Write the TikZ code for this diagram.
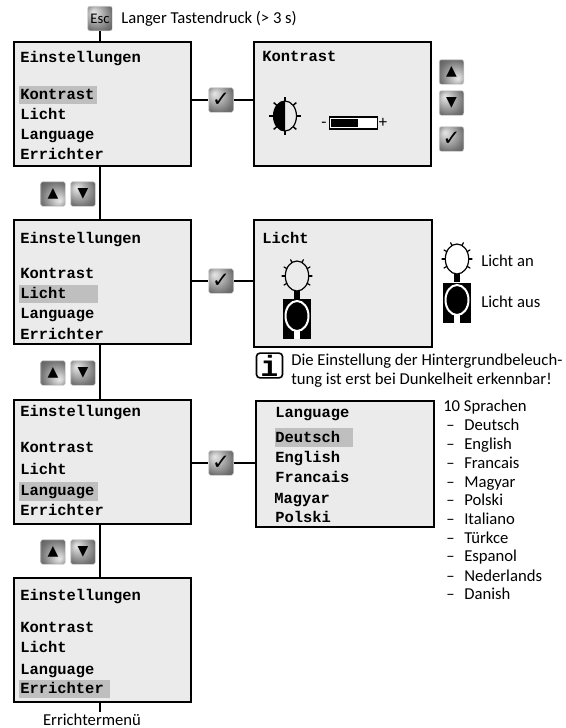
\documentclass[tikz,border=0pt]{standalone}
\usepackage{fontspec}
\setmainfont{Carlito}
\newfontfamily\lcd{Liberation Mono}[BoldFont={Liberation Mono Bold}]
\newfontfamily\sym{DejaVu Sans}
\pgfdeclareradialshading{btnup}{\pgfpoint{14bp}{-14bp}}{color(0bp)=(white!90!black); color(8bp)=(white!80!black); color(30bp)=(black!55); color(50bp)=(black!72)}
\pgfdeclareradialshading{btndown}{\pgfpoint{-14bp}{14bp}}{color(0bp)=(white!90!black); color(8bp)=(white!80!black); color(30bp)=(black!55); color(50bp)=(black!72)}
\tikzset{
  screen/.style={draw=black,fill=black!8,line width=1.5pt,inner sep=0,minimum width=133pt,minimum height=93pt},
  lcdtext/.style={font=\lcd\bfseries\fontsize{11.6pt}{13pt}\selectfont,anchor=west,inner sep=0,text height=7.5pt,text depth=1.5pt},
  btn/.style={draw=black!15,line width=.4pt,rounded corners=1.5pt,inner sep=0,minimum width=18.4pt,minimum height=18.4pt,text=black},
  btnu/.style={btn,shading=btnup},
  btnd/.style={btn,shading=btndown},
  sym/.style={font=\sym\fontsize{10.5pt}{10.5pt}\selectfont},
  chk/.style={font=\sym\fontsize{16pt}{16pt}\selectfont},
  label/.style={font=\fontsize{12.5pt}{14pt}\selectfont,anchor=west,inner sep=0,text height=8.5pt,text depth=2.5pt},
  conn/.style={line width=1.5pt,draw=black},
  ray/.style={line width=.9pt,line cap=round},
  pics/bulbon/.style={code={
    \foreach \a in {30,150,180,210,245,295,330,0}
      \draw[ray] (\a:11.7 and 14.7) -- (\a:15 and 18);
    \fill[black] (-2.7,15) rectangle (2.7,23);
    \draw[line width=.9pt] (0,0) ellipse (11.7 and 15);
  }},
  pics/bulboff/.style={code={
    \fill[black] (-14,-21) rectangle (14,19);
    \draw[white,line width=1.5pt,fill=black] (0,-4) ellipse (11.5 and 15);
    \fill[white] (-2.7,11) rectangle (2.7,19);
  }}
}
\begin{document}
\begin{tikzpicture}[x=.75pt,y=-.75pt]
\useasboundingbox (0,0) rectangle (566,728);
\coordinate (sp) at (100,0);

% screens
\node[screen] (s1) at (102.5,104) {};
\node[screen] (s2) at (102.5,282) {};
\node[screen] (s3) at (102.5,461.5) {};
\node[screen] (s4) at (102.5,639.5) {};
\node[screen] (kon) at (342.5,103.5) {};
\node[screen,minimum height=95pt] (lic) at (343,283.5) {};
\node[screen,minimum height=94pt] (lan) at (345,464) {};

% highlights
\fill[black!25] (19,86) rectangle (97,104);
\fill[black!25] (19,285) rectangle (98,303);
\fill[black!25] (19,482) rectangle (98,501);
\fill[black!25] (19,680) rectangle (110,698);
\fill[black!25] (275,428) rectangle (353,447);

% left menus
\node[lcdtext] (t1a) at (20,58) {Einstellungen};
\node[lcdtext] (t1b) at (20,95) {Kontrast};
\node[lcdtext] (t1c) at (20,115) {Licht};
\node[lcdtext] (t1d) at (20,135) {Language};
\node[lcdtext] (t1e) at (20,155) {Errichter};
\node[lcdtext] (t2a) at (20,239) {Einstellungen};
\node[lcdtext] (t2b) at (20,274) {Kontrast};
\node[lcdtext] (t2c) at (20,294) {Licht};
\node[lcdtext] (t2d) at (20,314) {Language};
\node[lcdtext] (t2e) at (20,335) {Errichter};
\node[lcdtext] (t3a) at (20,412) {Einstellungen};
\node[lcdtext] (t3b) at (20,448) {Kontrast};
\node[lcdtext] (t3c) at (20,470) {Licht};
\node[lcdtext] (t3d) at (20,491) {Language};
\node[lcdtext] (t3e) at (20,511) {Errichter};
\node[lcdtext] (t4a) at (20,596) {Einstellungen};
\node[lcdtext] (t4b) at (20,628) {Kontrast};
\node[lcdtext] (t4c) at (20,648) {Licht};
\node[lcdtext] (t4d) at (20,670) {Language};
\node[lcdtext] (t4e) at (20,689) {Errichter};

% right screens text
\node[lcdtext] (tk) at (262,57) {Kontrast};
\node[lcdtext] (tl) at (262,239) {Licht};
\node[lcdtext] (la) at (275,413) {Language};
\node[lcdtext] (lb) at (275,438) {Deutsch};
\node[lcdtext] (lc) at (275,458) {English};
\node[lcdtext] (ld) at (275,478) {Francais};
\node[lcdtext] (le) at (274,499) {Magyar};
\node[lcdtext] (lf) at (275,518) {Polski};

% buttons
\node[btnd,font=\fontsize{11pt}{11pt}\selectfont] (esc) at (100,18.5) {Esc};
\node[btnd,chk] (c1) at (221,100) {✓};
\node[btnd,chk] (c2) at (221,281) {✓};
\node[btnd,chk] (c3) at (221,463) {✓};
\node[btnu,sym] (u1) at (53,194) {▲};
\node[btnd,sym] (d1) at (83,194) {▼};
\node[btnu,sym] (u2) at (53,373) {▲};
\node[btnd,sym] (d2) at (83,373) {▼};
\node[btnu,sym] (u3) at (53,552) {▲};
\node[btnd,sym] (d3) at (83,552) {▼};
\node[btnu,sym] (ur) at (451.5,72) {▲};
\node[btnd,sym] (dr) at (451.5,103) {▼};
\node[btnd,chk] (cr) at (451.5,139) {✓};

% connectors
\draw[conn] (esc.south) -- (s1.north -| esc);
\draw[conn] (s1.south -| sp) -- (s2.north -| sp);
\draw[conn] (s2.south -| sp) -- (s3.north -| sp);
\draw[conn] (s3.south -| sp) -- (s4.north -| sp);
\draw[conn] (s1.east |- c1) -- (c1.west);
\draw[conn] (c1.east) -- (kon.west |- c1);
\draw[conn] (s2.east |- c2) -- (c2.west);
\draw[conn] (c2.east) -- (lic.west |- c2);
\draw[conn] (s3.east |- c3) -- (c3.west);
\draw[conn] (c3.east) -- (lan.west |- c3);
\node[label,anchor=base,text depth=0pt] (em) at (92,725.5) {Errichtermenü};
\coordinate (emtop) at (100,712);
\draw[conn] (s4.south -| sp) -- (emtop);

% labels
\node[label] (lt) at (121,19) {Langer Tastendruck (> 3 s)};
\node[label] (lan1) at (481,262) {Licht an};
\node[label] (lan2) at (481,303) {Licht aus};
\node[label] (h1) at (291,361) {Die Einstellung der Hintergrundbeleuch-};
\node[label] (h2) at (291,380) {tung ist erst bei Dunkelheit erkennbar!};
\node[label] (sp0) at (443,407) {10 Sprachen};
\foreach \y/\t in {426/Deutsch,445/English,464/Francais,483/Magyar,501/Polski,520/Italiano,539/Türkce,557/Espanol,577/Nederlands,595/Danish}{
  \node[label] at (446,\y) {–};
  \node[label] at (464,\y) {\t};
}

% info icon
\node[draw=black,line width=1.2pt,fill=white,rounded corners=2.5pt,inner sep=0,minimum width=19.5pt,minimum height=18.5pt,font=\lcd\bfseries\fontsize{22pt}{22pt}\selectfont] (info) at (269.5,365.5) {i};

% contrast icon
\begin{scope}[shift={(285,116)}]
  \foreach \a in {0,45,90,135,180,225,270,315}
    \draw[line width=1.1pt] (\a:11.5 and 15) -- (\a:16 and 19);
  \draw[line width=.9pt] (0,0) ellipse (11.5 and 15);
  \begin{scope}
    \clip (-20,-20) rectangle (0,20);
    \fill[black] (0,0) ellipse (11.5 and 15);
  \end{scope}
\end{scope}
\node[draw=black,line width=.9pt,fill=white,inner sep=0,minimum width=36.5pt,minimum height=9pt] (bar) at (353.5,123) {};
\fill[black] (331,119) rectangle (358,127);
\node[label,anchor=center] (minus) at (324,123) {-};
\node[label,anchor=center] (plus) at (383,123) {+};

% bulbs
\pic at (297,276) {bulbon};
\pic at (297,320) {bulboff};
\pic at (457,259) {bulbon};
\pic at (457,304) {bulboff};
\end{tikzpicture}
\end{document}
